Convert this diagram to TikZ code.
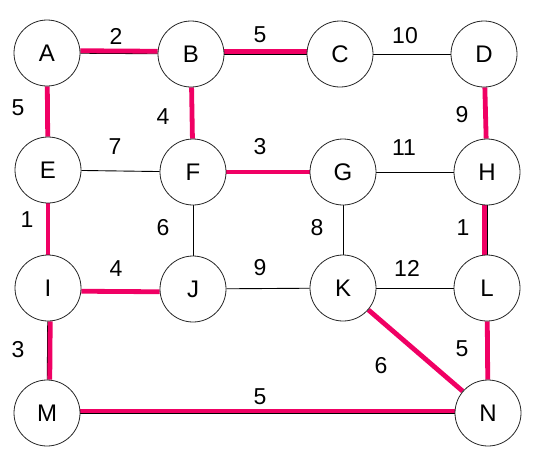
\documentclass[tikz,border=0pt]{standalone}
\usepackage{fontspec}
\setmainfont{Liberation Sans}
\usetikzlibrary{backgrounds}
\definecolor{mstpink}{RGB}{240,0,100}
\begin{document}
\begin{tikzpicture}[x=1pt,y=-1pt,
  vtx/.style={circle,draw=black!85,line width=0.8pt,fill=white,minimum size=66pt,inner sep=0pt,font=\fontsize{24}{27}\selectfont},
  plain/.style={draw=black,line width=0.9pt},
  mstedge/.style={draw=mstpink,line width=4.8pt},
  wlab/.style={font=\fontsize{23}{27}\selectfont,inner sep=0pt}]
\useasboundingbox (0,0) rectangle (540,456);
% nodes
\node[vtx] (A) at (47,53) {A};
\node[vtx] (B) at (191,54) {B};
\node[vtx] (C) at (340,54) {C};
\node[vtx] (D) at (484,54) {D};
\node[vtx] (E) at (48,170) {E};
\node[vtx] (F) at (193,172) {F};
\node[vtx] (G) at (343,172) {G};
\node[vtx] (H) at (487,172) {H};
\node[vtx] (I) at (48,288) {I};
\node[vtx] (J) at (193,289) {J};
\node[vtx] (K) at (343,288) {K};
\node[vtx] (L) at (487,288) {L};
\node[vtx] (M) at (47,413) {M};
\node[vtx] (N) at (488,413) {N};
\begin{pgfonlayer}{background}
% plain edges
\draw[plain] (A) -- (B);
\draw[plain] (B) -- (C);
\draw[plain] (C) -- (D);
\draw[plain] (E) -- (F);
\draw[plain] (G) -- (H);
\draw[plain] (F) -- (J);
\draw[plain] (G) -- (K);
\draw[plain] (J) -- (K);
\draw[plain] (K) -- (L);
\draw[plain] (I) -- (M);
\draw[plain] (H) -- (L);
\draw[plain] (M) -- (N);
% highlighted edges
\draw[mstedge,transform canvas={yshift=2.5pt}] (A) -- (B);
\draw[mstedge,transform canvas={yshift=2.5pt}] (B) -- (C);
\draw[mstedge] (A) -- (E);
\draw[mstedge] (B) -- (F);
\draw[mstedge] (D) -- (H);
\draw[mstedge] (F) -- (G);
\draw[mstedge] (E) -- (I);
\draw[mstedge,transform canvas={xshift=-2.5pt}] (H) -- (L);
\draw[mstedge,transform canvas={yshift=-3pt}] (I) -- (J);
\draw[mstedge,transform canvas={xshift=2.5pt}] (I) -- (M);
\draw[mstedge] (K) -- (N);
\draw[mstedge] (L) -- (N);
\draw[mstedge,transform canvas={yshift=2pt}] (M) -- (N);
\end{pgfonlayer}
% weights
\node[wlab] (wAB) at (116,36) {2};
\node[wlab] (wBC) at (260,35) {5};
\node[wlab] (wCD) at (405,36) {10};
\node[wlab] (wAE) at (18,108) {5};
\node[wlab] (wBF) at (163,117) {4};
\node[wlab] (wDH) at (462,115) {9};
\node[wlab] (wEF) at (115,147) {7};
\node[wlab] (wFG) at (260,147) {3};
\node[wlab] (wGH) at (404,148) {11};
\node[wlab] (wEI) at (27,220) {1};
\node[wlab] (wFJ) at (163,228) {6};
\node[wlab] (wGK) at (317,228) {8};
\node[wlab] (wHL) at (463,228) {1};
\node[wlab] (wIJ) at (116,269) {4};
\node[wlab] (wJK) at (260,268) {9};
\node[wlab] (wKL) at (407,268) {12};
\node[wlab] (wIM) at (18,350) {3};
\node[wlab] (wKN) at (381,366) {6};
\node[wlab] (wLN) at (462,349) {5};
\node[wlab] (wMN) at (260,397) {5};
\end{tikzpicture}
\end{document}
